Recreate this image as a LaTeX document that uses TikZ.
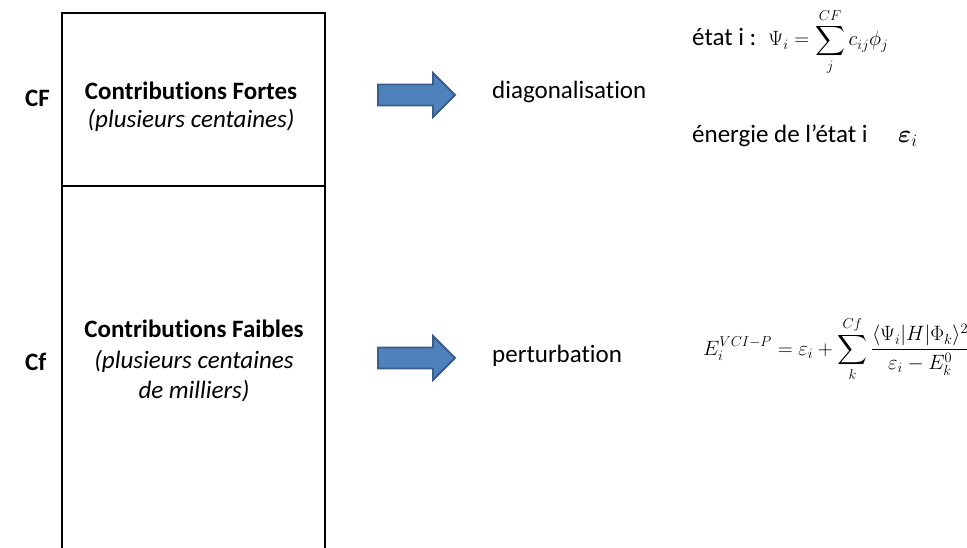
\documentclass[tikz,border=0pt]{standalone}
\usepackage{fontspec}
\setmainfont[RawFeature=-liga]{Carlito}
\usepackage{amsmath}
\usepackage{bm}
\definecolor{arrowfill}{HTML}{4F81BD}
\definecolor{arrowline}{HTML}{385D8A}
\begin{document}
\begin{tikzpicture}[x=1pt,y=-1pt,
  txt/.style={font=\fontsize{25}{30}\selectfont, inner sep=0pt, anchor=base},
  txtw/.style={txt, anchor=base west},
  boxline/.style={line width=2.2pt, line cap=rect},
  blockarrow/.pic={
    \draw[arrowline, fill=arrowfill, line width=1.8pt, line join=miter]
      (0,-10.5) -- (55,-10.5) -- (55,-22) -- (77,0) -- (55,22) -- (55,10.5)
      -- (0,10.5) -- cycle;}
]
\useasboundingbox (0,0) rectangle (967,548);

% the two-part column
\draw[boxline] (62,560) -- (62,13) -- (325,13) -- (325,560);
\draw[boxline] (62,186) -- (325,186);

% row labels
\node[txtw, font=\fontsize{25}{30}\selectfont\bfseries] (cf) at (25,107) {CF};
\node[txtw, font=\fontsize{25}{30}\selectfont\bfseries] (cfw) at (25,370) {Cf};

% strong contributions
\node[txt, font=\fontsize{25}{30}\selectfont\bfseries] (strong) at (191,100) {Contributions Fortes};
\node[txt, font=\fontsize{25}{30}\selectfont\itshape] (strongn) at (191,128) {(plusieurs centaines)};

% weak contributions
\node[txt, font=\fontsize{25}{30}\selectfont\bfseries] (weak) at (194,337) {Contributions Faibles};
\node[txt, font=\fontsize{25}{30}\selectfont\itshape] (weakn) at (194,368) {(plusieurs centaines};
\node[txt, font=\fontsize{25}{30}\selectfont\itshape] (weakm) at (194,398) {de milliers)};

% arrows
\pic (arrowA) at (378,95) {blockarrow};
\pic (arrowB) at (378,358) {blockarrow};

% methods
\node[txtw] (diag) at (492,99) {diagonalisation};
\node[txtw] (pert) at (492,362) {perturbation};

% results
\node[txtw] (state) at (692,46) {état i :\hspace{12pt}{\fontsize{22}{26}\selectfont$\Psi_i = \displaystyle\sum_{j}^{CF} c_{ij}\phi_j$}};
\node[txtw] (energy) at (692,143) {énergie de l’état i \quad $\bm{\varepsilon}_i$};
\node[txtw, font=\fontsize{21.5}{26}\selectfont] (pt) at (703,355)
  {$E_i^{VCI-P} = \varepsilon_i + \displaystyle\sum_{k}^{Cf}
   \frac{\langle\Psi_i|H|\Phi_k\rangle^2}{\varepsilon_i - E_k^0}$};
\end{tikzpicture}
\end{document}
